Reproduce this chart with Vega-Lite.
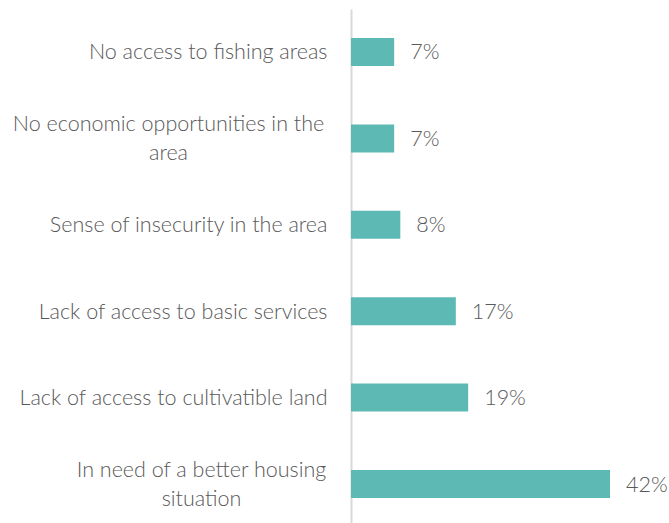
{
  "$schema": "https://vega.github.io/schema/vega-lite/v6.json",
  "width": 318,
  "height": 514,
  "autosize": "none",
  "padding": {"left": 351, "top": 9, "right": 0, "bottom": 0},
  "background": "white",
  "data": {
    "values": [
      {"reason": "No access to fishing areas", "share": 0.07},
      {"reason": "No economic opportunities in the|area", "share": 0.07},
      {"reason": "Sense of insecurity in the area", "share": 0.08},
      {"reason": "Lack of access to basic services", "share": 0.17},
      {"reason": "Lack of access to cultivatible land", "share": 0.19},
      {"reason": "In need of a better housing|situation", "share": 0.42}
    ]
  },
  "config": {
    "view": {"stroke": null},
    "font": "Lato"
  },
  "encoding": {
    "y": {
      "field": "reason",
      "type": "nominal",
      "sort": null,
      "title": null,
      "scale": {"paddingInner": 0.676, "paddingOuter": 0.3125, "align": 0.537},
      "axis": {
        "labelExpr": "split(datum.label, '|')",
        "labelFont": "Lato",
        "labelFontWeight": 300,
        "labelFontSize": 21.5,
        "labelColor": "#595959",
        "labelLineHeight": 29,
        "labelPadding": {
          "condition": [
            {"test": "datum.value == 'No economic opportunities in the|area'", "value": 183},
            {"test": "datum.value == 'In need of a better housing|situation'", "value": 150}
          ],
          "value": 24
        },
        "labelAlign": {
          "condition": {"test": "indexof(datum.value, '|') >= 0", "value": "center"},
          "value": "right"
        },
        "labelOffset": {
          "condition": {"test": "indexof(datum.value, '|') >= 0", "value": -13.5},
          "value": 1.5
        },
        "labelLimit": 400,
        "ticks": false,
        "domainColor": "#d9d9d9",
        "domainWidth": 2
      }
    },
    "x": {
      "field": "share",
      "type": "quantitative",
      "scale": {"domain": [0, 0.5157], "nice": false, "zero": true},
      "axis": null
    }
  },
  "layer": [
    {"mark": {"type": "bar", "color": "#5db9b3"}},
    {
      "mark": {
        "type": "text",
        "align": "left",
        "baseline": "middle",
        "dx": 16,
        "dy": 1.5,
        "font": "Lato",
        "fontWeight": 300,
        "fontSize": 21.5,
        "color": "#595959"
      },
      "encoding": {
        "text": {"field": "share", "type": "quantitative", "format": ".0%"}
      }
    }
  ]
}
